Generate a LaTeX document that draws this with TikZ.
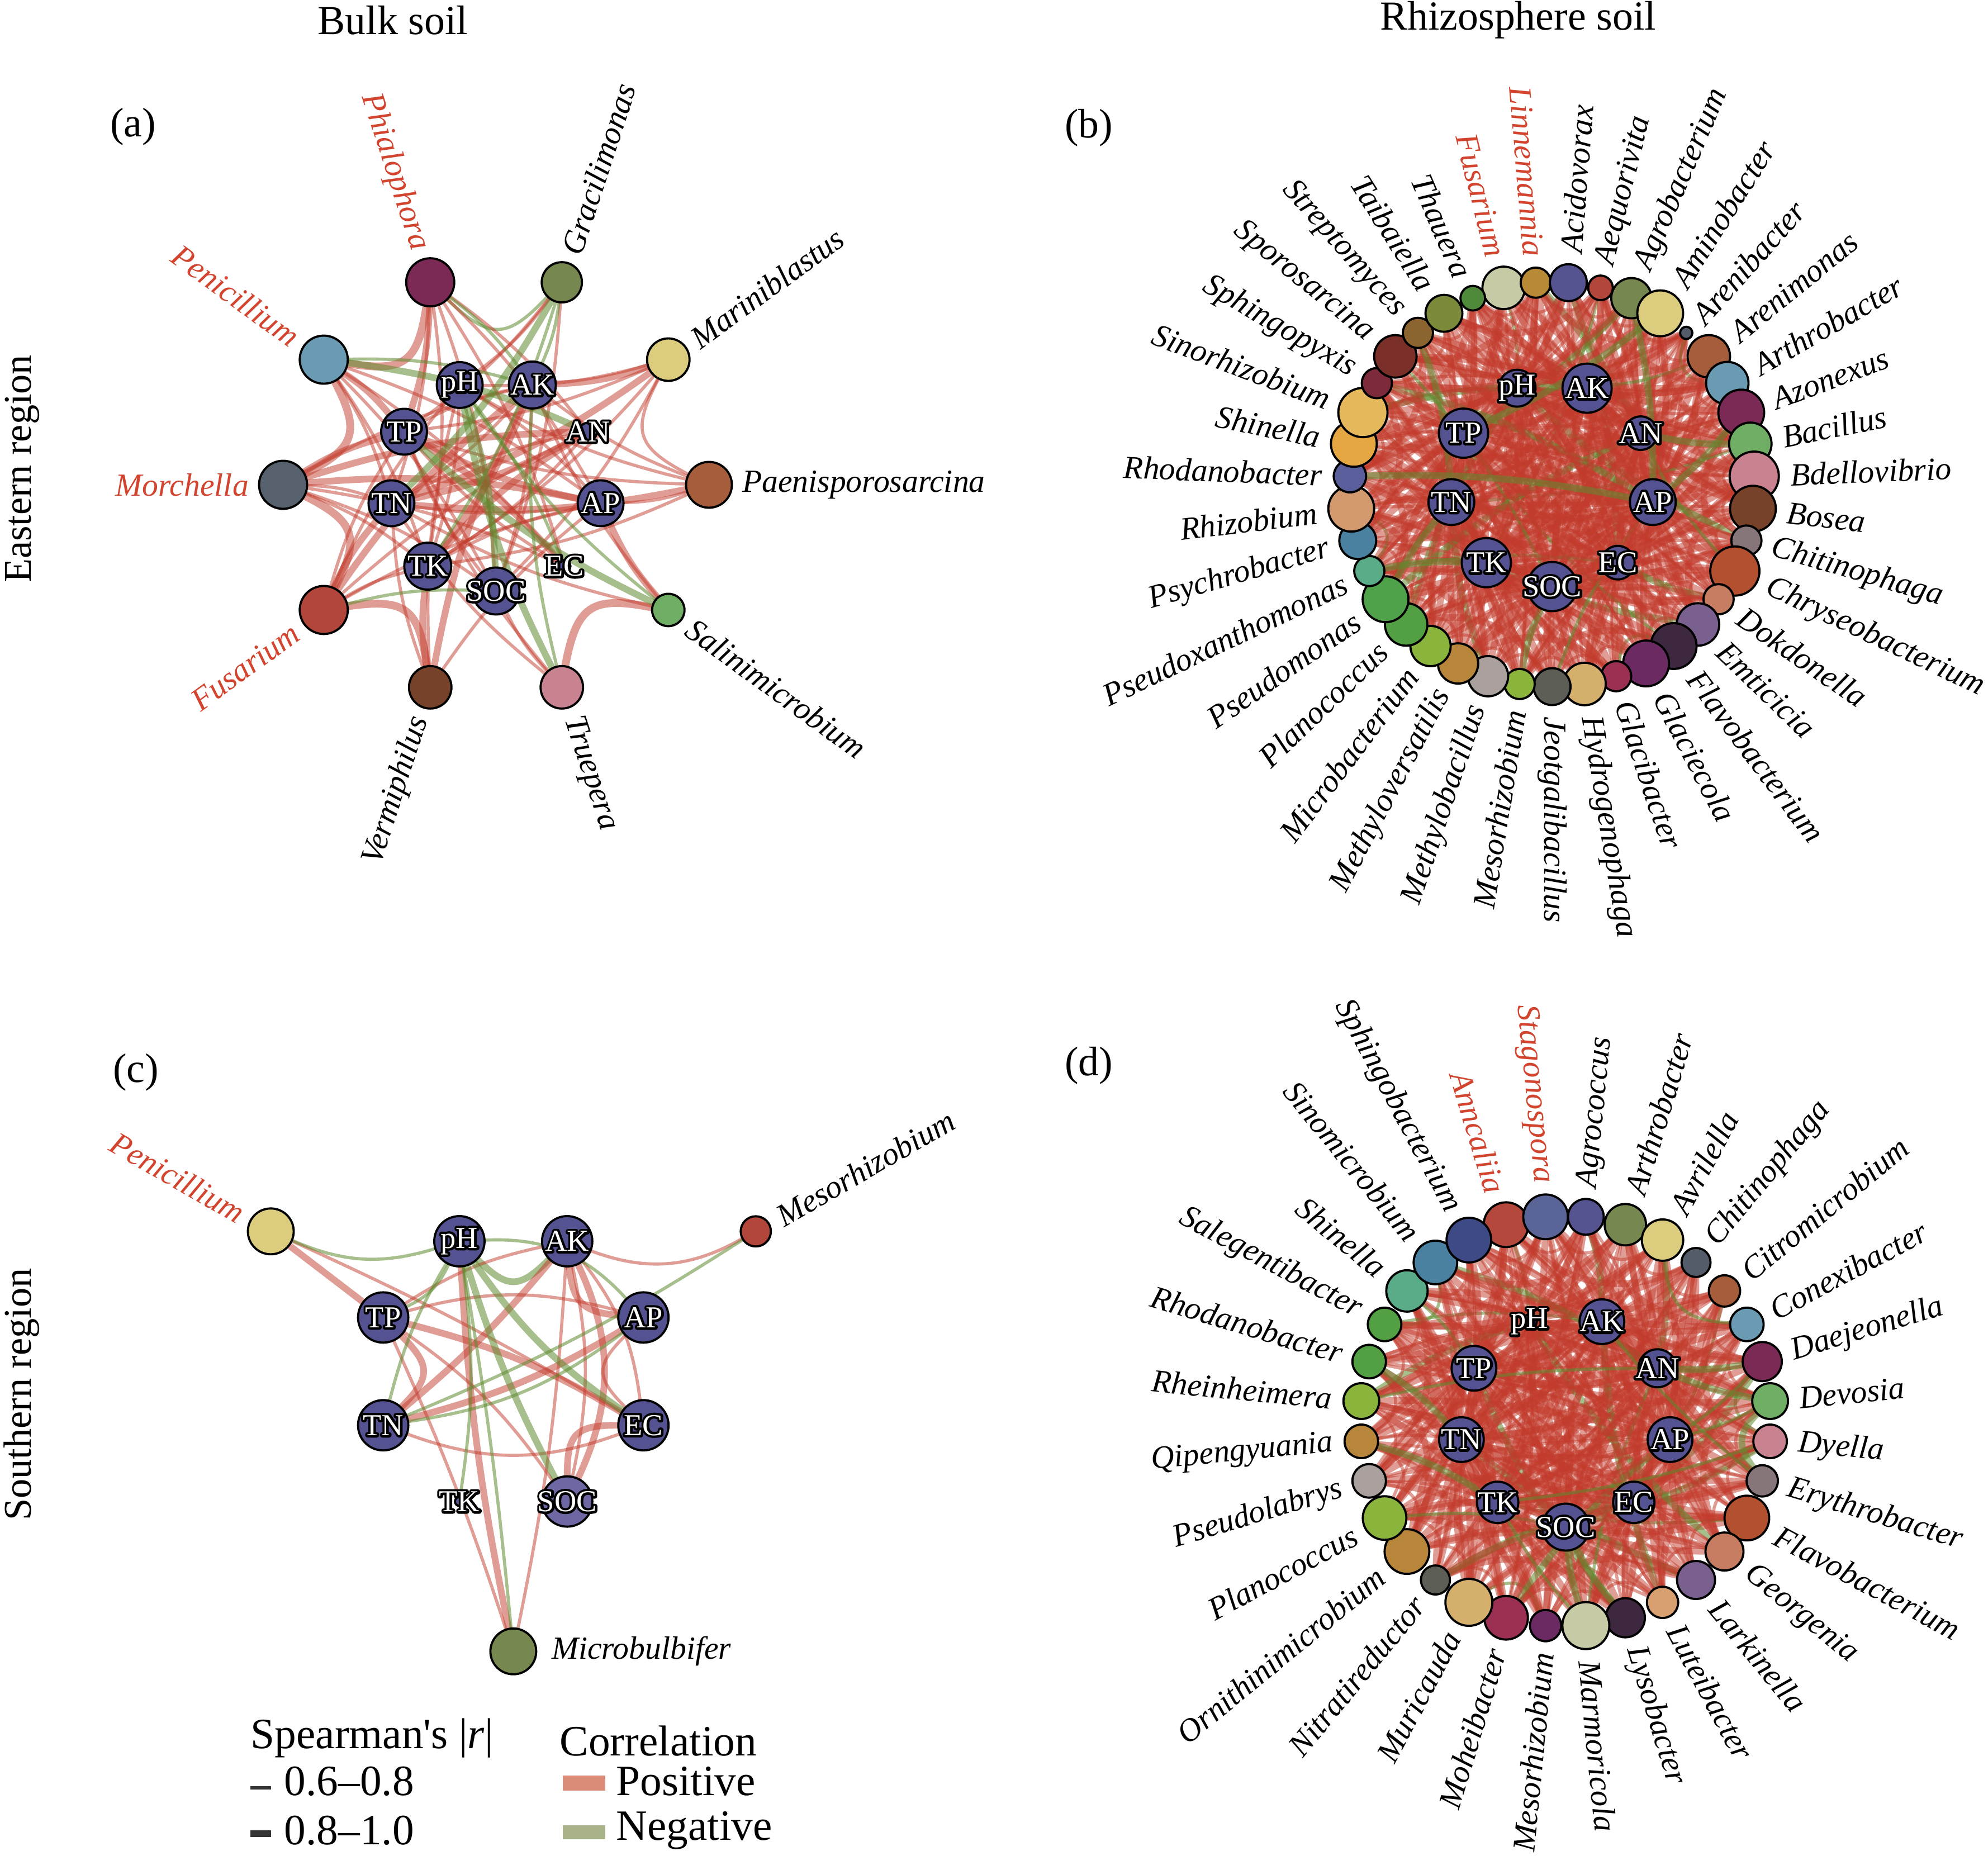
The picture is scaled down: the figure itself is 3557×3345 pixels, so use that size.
\documentclass[tikz,border=0pt]{standalone}
\usepackage{fontspec}
\setmainfont{Liberation Serif}
\usetikzlibrary{calc}

\definecolor{posc}{HTML}{C23B2C}
\definecolor{negc}{HTML}{5E8A2E}
\definecolor{posleg}{HTML}{D98B78}
\definecolor{negleg}{HTML}{A8B38A}
\definecolor{soilc}{HTML}{545290}
\definecolor{soilpale}{HTML}{6D67A3}
\definecolor{fungus}{HTML}{D2442E}

\pgfdeclarelayer{edges}
\pgfsetlayers{edges,main}

% white text over a stroked black copy
\newcommand{\halo}[1]{%
  \makebox[0pt]{\textcolor{black}{\special{pdf:code 1 Tr 2.4 w 1 j}#1\special{pdf:code 0 Tr}}}%
  \makebox[0pt]{\textcolor{white}{#1}}}

\tikzset{
  bug/.style={circle, draw=black, line width=1.1pt, inner sep=0pt, minimum size=#1*0.2mm},
  soil/.style={bug=#1, fill=soilc},
  tag/.style={inner sep=0pt, font=\fontsize{16.4}{19}\selectfont\itshape},
  soiltag/.style={inner sep=0pt, font=\fontsize{15.5}{18}\selectfont},
  head/.style={inner sep=0pt, font=\fontsize{21}{25}\selectfont},
  legtext/.style={inner sep=0pt, anchor=west, font=\fontsize{22}{26}\selectfont},
  poslink/.style={draw=posc, draw opacity=0.5, line cap=round, line width=#1pt},
  poslink/.default=1.6,
  neglink/.style={draw=negc, draw opacity=0.55, line cap=round, line width=#1pt},
  neglink/.default=1.6
}

\begin{document}
\begin{tikzpicture}[x=0.1mm, y=0.1mm]
\useasboundingbox (0,0) rectangle (3557,3345);

% headings
\node[head] (bulk)  at (703,3309)  {Bulk soil};
\node[head] (rhizo) at (2716,3309) {Rhizosphere soil};
\node[head, font=\fontsize{20}{24}\selectfont, rotate=90, anchor=base] (east)  at (55,2506) {Eastern region};
\node[head, font=\fontsize{20}{24}\selectfont, rotate=90, anchor=base] (south) at (55,850)  {Southern region};
\node[head] (pa) at (238,3118)  {(a)};
\node[head] (pb) at (1948,3116) {(b)};
\node[head] (pc) at (243,1426)  {(c)};
\node[head] (pd) at (1948,1438) {(d)};

% ---------------- (a)
\coordinate (ctrA) at (887.5,2477.5);
\foreach \nm/\ang/\rad in {pH/110/41, AK/70/42, AN/30/16, AP/-10/41, EC/-50/11,
    SOC/-90/42, TK/-130/42, TN/-170/41, TP/150/41}{
  \node[soil=\rad] (a\nm) at ($(ctrA)+(\ang:190)$) {};
  \node[soiltag] at (a\nm) {\halo{\nm}};
}
\foreach \nm/\col/\rad/\ang/\tc [count=\k] in {
    Phialophora/7B2A56/43/108/fungus, Gracilimonas/76874F/36/72/black,
    Mariniblastus/DCCD7E/38/36/black, Paenisporosarcina/A65D3B/41/0/black,
    Salinimicrobium/6FAE64/29/-36/black, Truepera/C98390/38/-72/black,
    Vermiphilus/76432A/38/-108/black, Fusarium/B2463A/43/-144/fungus,
    Morchella/57606D/43/180/fungus, Penicillium/6B9AB3/43/144/fungus}{
  \edef\tmpdef{\noexpand\definecolor{tmpfill}{HTML}{\col}}\tmpdef
  \node[bug=\rad, fill=tmpfill] (a\k) at ($(ctrA)+(\ang:381)$) {};
  \pgfmathsetmacro\lr{381+\rad+18}
  \pgfmathtruncatemacro\rs{cos(\ang)>-0.001}
  \ifnum\rs=1
    \node[tag, text=\tc, rotate=\ang, anchor=west] at ($(ctrA)+(\ang:\lr)$) {\nm};
  \else
    \pgfmathsetmacro\rot{\ang-180}
    \node[tag, text=\tc, rotate=\rot, anchor=east] at ($(ctrA)+(\ang:\lr)$) {\nm};
  \fi
}
\begin{pgfonlayer}{edges}
  \draw[poslink=4]   (a10) to[bend right=45, looseness=1.5] (a1);
  \draw[neglink]     (a1)  to[bend right=45, looseness=1.5] (a2);
  \draw[poslink]     (a3)  to[bend right=45, looseness=1.5] (a4);
  \draw[poslink=4]   (a5)  to[bend right=45, looseness=1.5] (a6);
  \draw[poslink=4]   (a7)  to[bend right=45, looseness=1.5] (a8);
  \draw[poslink=4]   (a8)  to[bend right=45, looseness=1.5] (a9);
  \draw[poslink=4]   (a9)  to[bend right=45, looseness=1.5] (a10);
  \foreach \u/\v/\w in {a1/aTP/3.4, a1/aTN/1.6, a1/aTK/1.6, a1/aSOC/1.6, a1/aAP/1.6,
      a1/aEC/1.6, a1/aAN/1.6, a2/apH/1.6, a2/aSOC/1.6, a2/aTP/1.6,
      a3/aAK/3.4, a3/aTP/1.6, a3/aTN/3.4, a3/aTK/1.6, a3/aSOC/1.6, a3/apH/1.6,
      a4/aTP/1.6, a4/aTN/3.4, a4/aTK/1.6, a4/apH/1.6, a4/aAK/1.6, a4/aAP/1.6,
      a5/aTN/1.6, a5/aAK/1.6, a5/aAP/3.4, a6/aTP/1.6, a6/aTN/1.6, a6/aSOC/1.6,
      a7/aTK/3.4, a7/aTN/1.6, a7/aAK/3.4, a7/aAP/1.6, a7/apH/1.6,
      a8/aTP/1.6, a8/aTN/3.4, a8/aAK/3.4, a8/aAN/1.6, a8/aAP/1.6, a8/apH/1.6, a8/aTK/1.6,
      a9/aTP/3.4, a9/aAK/1.6, a9/aAN/3.4, a9/aAP/3.4, a9/aEC/1.6, a9/aSOC/1.6,
      a9/aTK/1.6, a9/aTN/1.6, a10/aTP/3.4, a10/aTN/1.6, a10/aAP/1.6, a10/aSOC/1.6,
      a10/aEC/1.6, a10/aTK/1.6,
      apH/aAP/1.6, apH/aTK/1.6, aAK/aTK/3.4, aAK/aTN/1.6, aAK/aSOC/1.6,
      aAN/aTK/1.6, aAN/aTN/3.4, aAP/aTP/3.4, aAP/aTN/1.6, aEC/aTP/1.6,
      aSOC/aTP/1.6, aTK/aAP/1.6, aTP/aAK/1.6, aTP/aEC/3.4, aTN/aAN/1.6, aTK/aAN/3.4}
    \draw[poslink=\w] (\u) to[bend left=8] (\v);
  \foreach \u/\v/\w in {a2/aTN/3.4, a2/aTK/1.6, a2/aAK/1.6, a5/aTP/3.4, a5/apH/1.6,
      a6/apH/3.4, a6/aAK/1.6, a10/aAK/1.6, a10/aAN/3.4, a8/aSOC/1.6, a1/aAK/1.6,
      apH/aEC/1.6, apH/aSOC/3.4}
    \draw[neglink=\w] (\u) to[bend left=8] (\v);
\end{pgfonlayer}

% ---------------- (b)
\coordinate (ctrB) at (2777,2478.4);
\foreach \nm/\ang/\rad in {pH/110/33, AK/70/44, AN/30/30, AP/-10/41, EC/-50/30,
    SOC/-90/44, TK/-130/44, TN/-170/41, TP/150/44}{
  \node[soil=\rad] (b\nm) at ($(ctrB)+(\ang:183)$) {};
  \node[soiltag] at (b\nm) {\halo{\nm}};
}
\foreach \nm/\col/\rad [count=\k from 0] in {
    Fusarium/C6CBA5/38, Linnemannia/B98A35/27, Acidovorax/565490/33,
    Aequorivita/B2463A/22, Agrobacterium/76874F/36, Aminobacter/DCCD7E/41,
    Arenibacter/555C69/11, Arenimonas/A65D3B/38, Arthrobacter/6B9AB3/38,
    Azonexus/7B2A56/41, Bacillus/6FAE64/38, Bdellovibrio/C98390/44,
    Bosea/76432A/41, Chitinophaga/867579/27, Chryseobacterium/B3502F/44,
    Dokdonella/C67D62/27, Emticicia/7A608E/38, Flavobacterium/3E2840/41,
    Glaciecola/6B2B62/41, Glacibacter/9C3052/27, Hydrogenophaga/D4B06C/38,
    Jeotgalibacillus/5D5E56/33, Mesorhizobium/8AB43C/27, Methylobacillus/AAA09D/36,
    Methyloversatilis/B8863A/36, Microbacterium/8AB43C/36, Planococcus/53A044/38,
    Pseudomonas/4FA24A/41, Pseudoxanthomonas/5AAC88/27, Psychrobacter/4A80A0/33,
    Rhizobium/D29A6E/41, Rhodanobacter/5A5E9A/29, Shinella/E5A742/41,
    Sinorhizobium/E6B85C/44, Sphingopyxis/7D2B3A/27, Sporosarcina/7A3028/38,
    Streptomyces/8B6430/27, Taibaiella/7A8A3A/33, Thauera/4F8A3B/22}{
  \edef\tmpdef{\noexpand\definecolor{tmpfill}{HTML}{\col}}\tmpdef
  \pgfmathsetmacro\ang{90+1.5*360/39-\k*360/39}
  \node[bug=\rad, fill=tmpfill] (b\k) at ($(ctrB)+(\ang:362)$) {};
  \ifnum\k<2 \def\tc{fungus}\else\def\tc{black}\fi
  \pgfmathsetmacro\lr{362+\rad+20}
  \pgfmathtruncatemacro\rs{cos(\ang)>-0.001}
  \ifnum\rs=1
    \node[tag, text=\tc, rotate=\ang, anchor=west] at ($(ctrB)+(\ang:\lr)$) {\nm};
  \else
    \pgfmathsetmacro\rot{\ang-180}
    \node[tag, text=\tc, rotate=\rot, anchor=east] at ($(ctrB)+(\ang:\lr)$) {\nm};
  \fi
}
\begin{pgfonlayer}{edges}
  \foreach \i in {0,...,38}{
    \foreach \v [count=\j from 0] in {pH,AK,AN,AP,EC,SOC,TK,TN,TP}{
      \pgfmathtruncatemacro\keep{mod(\i*5+\j*7,9)<7}
      \ifnum\keep=1
        \pgfmathtruncatemacro\isneg{mod(\i*3+\j*5,13)==0}
        \pgfmathsetmacro\ew{mod(\i+2*\j,3)==0 ? 1.6 : 3.4}
        \ifnum\isneg=1
          \draw[neglink=\ew] (b\i) to[bend left=8] (b\v);
        \else
          \draw[poslink=\ew] (b\i) to[bend left=8] (b\v);
        \fi
      \fi
    }
    \pgfmathtruncatemacro\nx{mod(\i+2,39)}
    \pgfmathtruncatemacro\far{mod(\i+5,39)}
    \pgfmathtruncatemacro\across{mod(\i+16,39)}
    \pgfmathtruncatemacro\wide{mod(\i+10,39)}
    \pgfmathtruncatemacro\isneg{mod(\i*4,11)==2}
    \ifnum\isneg=1
      \draw[neglink] (b\i) to[bend right=50, looseness=1.3] (b\nx);
    \else
      \draw[poslink] (b\i) to[bend right=50, looseness=1.3] (b\nx);
    \fi
    \draw[poslink=3.4] (b\i) to[bend right=20] (b\wide);
    \ifodd\i
      \draw[poslink=3.4] (b\i) to[bend right=35] (b\far);
    \else
      \draw[poslink] (b\i) to[bend right=12] (b\across);
    \fi
  }
  \foreach \u [count=\p from 0] in {pH,AK,AN,AP,EC,SOC,TK,TN,TP}{
    \foreach \v [count=\q from 0] in {pH,AK,AN,AP,EC,SOC,TK,TN,TP}{
      \ifnum\q>\p \draw[poslink=3.4] (b\u) to[bend left=15] (b\v); \fi
    }
  }
  \foreach \u/\v in {b27/bTN, b28/bTK, b10/bAN, b9/bAP, b4/bAP, b5/bTP, b31/bAP}
    \draw[neglink=3.4] (\u) to[bend left=6] (\v);
\end{pgfonlayer}

% ---------------- (c)
\coordinate (ctrC) at (918.4,891.2);
\foreach \nm/\ang/\rad/\col in {pH/112.5/45/soilc, AK/67.5/45/soilc, AP/22.5/45/soilc,
    EC/-22.5/45/soilc, SOC/-67.5/45/soilpale, TK/-112.5/8/soilc, TN/-157.5/45/soilc,
    TP/157.5/45/soilc}{
  \node[bug=\rad, fill=\col] (c\nm) at ($(ctrC)+(\ang:252)$) {};
  \node[soiltag] at (c\nm) {\halo{\nm}};
}
\definecolor{tmpfill}{HTML}{DCCD7E}
\node[bug=41, fill=tmpfill] (c1) at ($(ctrC)+(150:501)$) {};
\node[tag, text=fungus, rotate=-30, anchor=east] (c1lbl) at ($(ctrC)+(150:560)$) {Penicillium};
\definecolor{tmpfill}{HTML}{B2463A}
\node[bug=27, fill=tmpfill] (c2) at ($(ctrC)+(30:501)$) {};
\node[tag, rotate=30, anchor=west] (c2lbl) at ($(ctrC)+(30:548)$) {Mesorhizobium};
\definecolor{tmpfill}{HTML}{76874F}
\node[bug=41, fill=tmpfill] (c3) at ($(ctrC)+(270:501)$) {};
\node[tag, anchor=west] (c3lbl) at ([xshift=2.5mm]c3.east) {Microbulbifer};
\begin{pgfonlayer}{edges}
  \draw[neglink=3.4] (cpH) to[bend right=45, looseness=1.5] (cAK);
  \draw[poslink=3.4] (cTN) to[bend right=45, looseness=1.5] (cTP);
  \draw[poslink=3.4] (cAK) to[bend right=40, looseness=1.3] (cAP);
  \draw[poslink]     (cAP) to[bend right=45, looseness=1.5] (cEC);
  \draw[poslink=3.4] (cEC) to[bend right=45, looseness=1.5] (cSOC);
  \foreach \u/\v/\w/\b in {c1/cTP/3.4/0, c1/cEC/1.6/3, c3/cpH/3.4/4, c3/cAK/1.6/-4,
      c3/cTP/1.6/-3, c2/cAK/1.6/25, cAK/cTN/3.4/5, cAK/cSOC/3.4/25, cAK/cSOC/1.6/12,
      cAK/cEC/1.6/15, cAK/cTP/1.6/-10, cTP/cEC/3.4/8, cTP/cSOC/1.6/10, cTN/cAP/3.4/-8,
      cTN/cEC/1.6/-20, cTP/cAP/1.6/15}
    \draw[poslink=\w] (\u) to[bend left=\b] (\v);
  \foreach \u/\v/\w/\b in {c1/cpH/1.6/-20, c2/cTN/1.6/5, c3/cpH/1.6/-2, cpH/cTP/1.6/20,
      cpH/cTN/1.6/-8, cpH/cEC/3.4/-10, cpH/cSOC/3.4/-5, cpH/cAP/1.6/25, cpH/cTK/1.6/8,
      cTN/cAP/1.6/-14}
    \draw[neglink=\w] (\u) to[bend left=\b] (\v);
\end{pgfonlayer}

% ---------------- (d)
\coordinate (ctrD) at (2801.4,802);
\foreach \nm/\ang/\rad in {pH/110/13, AK/70/40, AN/30/34, AP/-10/40, EC/-50/37,
    SOC/-90/42, TK/-130/37, TN/-170/40, TP/150/40}{
  \node[soil=\rad] (d\nm) at ($(ctrD)+(\ang:189.5)$) {};
  \node[soiltag] at (d\nm) {\halo{\nm}};
}
\foreach \nm/\col/\rad [count=\k from 0] in {
    Anncaliia/B5483C/40, Stagonospora/5A6496/40, Agrococcus/565490/32,
    Arthrobacter/76874F/37, Avrilella/DCCD7E/37, Chitinophaga/555C69/26,
    Citromicrobium/A65D3B/28, Conexibacter/6B9AB3/30, Daejeonella/7B2A56/35,
    Devosia/6FAE64/32, Dyella/C98390/30, Erythrobacter/867579/28,
    Flavobacterium/B3502F/40, Georgenia/C67D62/34, Larkinella/7A608E/34,
    Luteibacter/D8A070/28, Lysobacter/3E2840/35, Marmoricola/C6CBA5/42,
    Mesorhizobium/6B2B62/28, Moheibacter/9C3052/39, Muricauda/D4B06C/42,
    Nitratireductor/5D5E56/26, Ornithinimicrobium/B8863A/40, Planococcus/8AB43C/39,
    Pseudolabrys/AAA09D/30, Qipengyuania/B8863A/30, Rheinheimera/8AB43C/32,
    Rhodanobacter/53A044/30, Salegentibacter/53A044/30, Shinella/5AAC88/37,
    Sinomicrobium/4A80A0/39, Sphingobacterium/3E4A86/40}{
  \edef\tmpdef{\noexpand\definecolor{tmpfill}{HTML}{\col}}\tmpdef
  \pgfmathsetmacro\ang{90+1.5*11.25-\k*11.25}
  \node[bug=\rad, fill=tmpfill] (d\k) at ($(ctrD)+(\ang:367.5)$) {};
  \ifnum\k<2 \def\tc{fungus}\else\def\tc{black}\fi
  \pgfmathsetmacro\lr{367.5+\rad+20}
  \pgfmathtruncatemacro\rs{cos(\ang)>-0.001}
  \ifnum\rs=1
    \node[tag, text=\tc, rotate=\ang, anchor=west] at ($(ctrD)+(\ang:\lr)$) {\nm};
  \else
    \pgfmathsetmacro\rot{\ang-180}
    \node[tag, text=\tc, rotate=\rot, anchor=east] at ($(ctrD)+(\ang:\lr)$) {\nm};
  \fi
}
\begin{pgfonlayer}{edges}
  \foreach \i in {0,...,31}{
    \foreach \v [count=\j from 0] in {pH,AK,AN,AP,EC,SOC,TK,TN,TP}{
      \pgfmathtruncatemacro\keep{mod(\i*7+\j*4,9)<7}
      \ifnum\keep=1
        \pgfmathtruncatemacro\isneg{mod(\i*5+\j*3,13)==0}
        \pgfmathsetmacro\ew{mod(2*\i+\j,3)==0 ? 1.6 : 3.4}
        \ifnum\isneg=1
          \draw[neglink=\ew] (d\i) to[bend left=8] (d\v);
        \else
          \draw[poslink=\ew] (d\i) to[bend left=8] (d\v);
        \fi
      \fi
    }
    \pgfmathtruncatemacro\nx{mod(\i+2,32)}
    \pgfmathtruncatemacro\far{mod(\i+5,32)}
    \pgfmathtruncatemacro\across{mod(\i+13,32)}
    \pgfmathtruncatemacro\wide{mod(\i+8,32)}
    \pgfmathtruncatemacro\isneg{mod(\i*3,10)==4}
    \ifnum\isneg=1
      \draw[neglink] (d\i) to[bend right=50, looseness=1.3] (d\nx);
    \else
      \draw[poslink] (d\i) to[bend right=50, looseness=1.3] (d\nx);
    \fi
    \draw[poslink=3.4] (d\i) to[bend right=20] (d\wide);
    \ifodd\i
      \draw[poslink] (d\i) to[bend right=12] (d\across);
    \else
      \draw[poslink=3.4] (d\i) to[bend right=35] (d\far);
    \fi
  }
  \foreach \u [count=\p from 0] in {pH,AK,AN,AP,EC,SOC,TK,TN,TP}{
    \foreach \v [count=\q from 0] in {pH,AK,AN,AP,EC,SOC,TK,TN,TP}{
      \ifnum\q>\p \draw[poslink=3.4] (d\u) to[bend left=15] (d\v); \fi
    }
  }
  \foreach \u/\v/\w in {d8/dAN/3.4, d9/dAN/3.4, d9/dAP/1.6, d8/dAP/1.6, d16/dSOC/3.4,
      d17/dSOC/3.4, d17/dTK/1.6, d26/dAN/1.6, d11/dAK/1.6, d10/dTK/1.6}
    \draw[neglink=\w] (\u) to[bend left=6] (\v);
  \draw[neglink=3.4] (d9) to[bend right=40, looseness=1.3] (d11);
  \draw[neglink] (d4) to[bend right=40, looseness=1.3] (d7);
\end{pgfonlayer}

% ---------------- legend
\node[legtext] (spear) at (448,235) {Spearman\textquotesingle s |\textit{r}|};
\fill[black!80] (448,143) rectangle (485,149);
\node[legtext] (thinlbl) at (508,158) {0.6--0.8};
\fill[black!80] (448,58) rectangle (485,70);
\node[legtext] (thicklbl) at (508,70) {0.8--1.0};
\node[legtext] (corrhead) at (1001,230) {Correlation};
\fill[posleg] (1007,141) rectangle (1083,168);
\node[legtext] (poslbl) at (1102,158) {Positive};
\fill[negleg] (1007,54) rectangle (1083,79);
\node[legtext] (neglbl) at (1102,70) {Negative};

\end{tikzpicture}
\end{document}
